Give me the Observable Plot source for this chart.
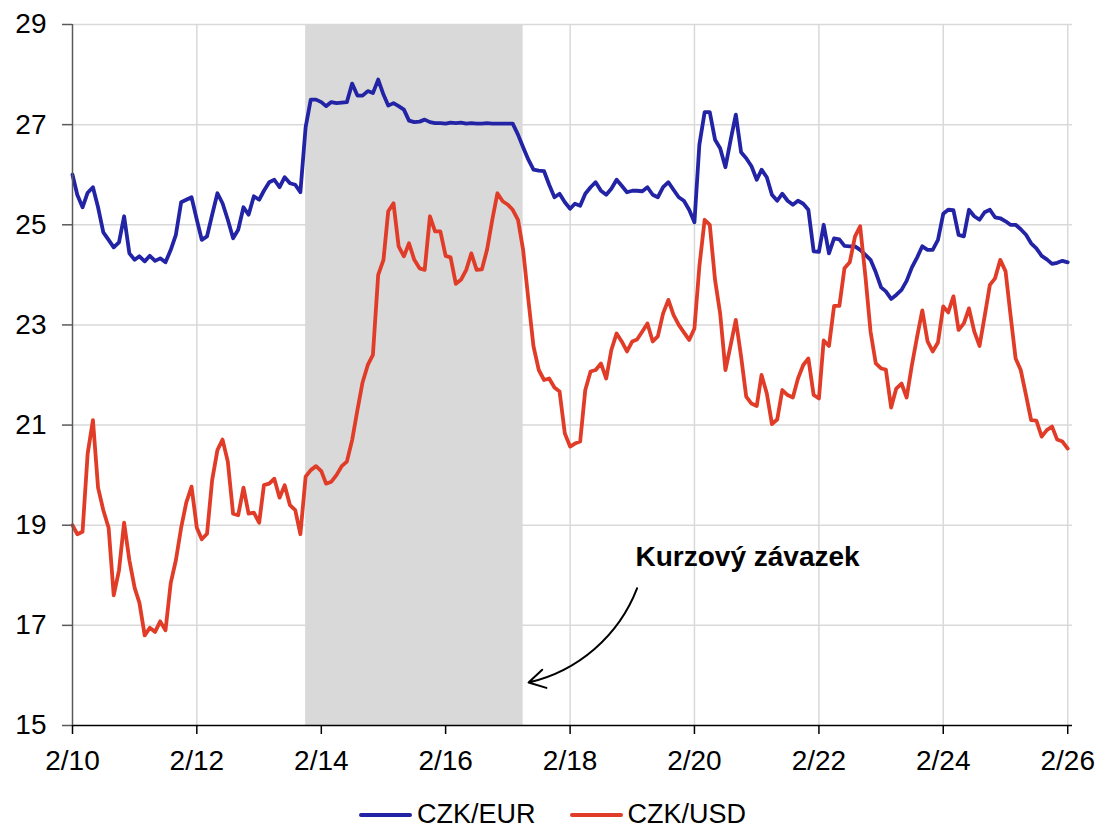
<!DOCTYPE html>
<html>
<head>
<meta charset="utf-8">
<script src="https://cdn.jsdelivr.net/npm/d3@7"></script>
<script src="https://cdn.jsdelivr.net/npm/@observablehq/plot@0.6"></script>
<style>
  body { margin: 0; background: #fff; font-family: "Liberation Sans", Arial, sans-serif; overflow: hidden; }
  #wrap { position: relative; width: 1105px; height: 830px; }
  #legend { position: absolute; left: 0; top: 800px; width: 1105px; height: 29px; line-height: 29px;
            display: flex; justify-content: center; align-items: center; font-size: 27px; color: #000; }
  #legend span { line-height: 29px; }
  .sw { display: inline-block; width: 53px; height: 4px; margin-right: 5px; border-radius: 2px; }
</style>
</head>
<body>
<div id="wrap"><div id="chart"></div>
  <div id="legend">
    <span class="sw" style="background:#2323a6"></span><span>CZK/EUR</span>
    <span class="sw" style="background:#e03c28;margin-left:34px"></span><span>CZK/USD</span>
  </div>
</div>
<script>
// Monthly data, first month = February 2010, last = February 2026
const startYear = 2010, startMonth = 2;

const czkEur = [
  // 2010 (Feb-Dec)
  26.0, 25.6, 25.35, 25.64, 25.75, 25.35, 24.85, 24.7, 24.55, 24.65, 25.17,
  // 2011
  24.43, 24.3, 24.37, 24.27, 24.38, 24.28, 24.33, 24.25, 24.5, 24.8, 25.45, 25.5,
  // 2012
  25.55, 25.1, 24.7, 24.77, 25.2, 25.63, 25.43, 25.1, 24.73, 24.9, 25.35, 25.2,
  // 2013
  25.57, 25.5, 25.68, 25.85, 25.9, 25.75, 25.95, 25.83, 25.8, 25.65, 26.95, 27.5,
  // 2014
  27.5, 27.45, 27.37, 27.45, 27.43, 27.44, 27.45, 27.82, 27.58, 27.58, 27.67, 27.63,
  // 2015
  27.9, 27.6, 27.38, 27.43, 27.37, 27.3, 27.08, 27.05, 27.06, 27.1, 27.05, 27.03,
  // 2016
  27.03, 27.02, 27.04, 27.03, 27.04, 27.02, 27.03, 27.02, 27.02, 27.03, 27.02, 27.02,
  // 2017
  27.02, 27.02, 27.02, 26.8, 26.55, 26.3, 26.1, 26.08, 26.07, 25.8, 25.55, 25.62,
  // 2018
  25.45, 25.32, 25.42, 25.38, 25.62, 25.75, 25.85, 25.68, 25.6, 25.72, 25.9, 25.78,
  // 2019
  25.65, 25.68, 25.68, 25.67, 25.75, 25.6, 25.55, 25.75, 25.85, 25.7, 25.55, 25.48,
  // 2020
  25.3, 25.05, 26.6, 27.25, 27.25, 26.7, 26.53, 26.15, 26.7, 27.2, 26.45, 26.33,
  // 2021
  26.17, 25.9, 26.1, 25.95, 25.6, 25.48, 25.62, 25.48, 25.4, 25.48, 25.42, 25.3,
  // 2022
  24.47, 24.46, 25.0, 24.43, 24.73, 24.71, 24.58, 24.57, 24.57, 24.5, 24.4, 24.3,
  // 2023
  24.05, 23.75, 23.67, 23.52, 23.6, 23.7, 23.88, 24.15, 24.35, 24.57, 24.5, 24.5,
  // 2024
  24.7, 25.22, 25.3, 25.29, 24.8, 24.77, 25.3, 25.17, 25.1, 25.25, 25.3, 25.15,
  // 2025
  25.13, 25.07, 25.0, 25.0, 24.91, 24.8, 24.63, 24.53, 24.38, 24.31, 24.22, 24.24,
  // 2026 (Jan-Feb)
  24.28, 24.25
];

const czkUsd = [
  // 2010 (Feb-Dec)
  19.0, 18.82, 18.87, 20.43, 21.1, 19.75, 19.3, 18.95, 17.6, 18.1, 19.05,
  // 2011
  18.3, 17.75, 17.45, 16.8, 16.95, 16.87, 17.08, 16.9, 17.85, 18.3, 18.95, 19.45,
  // 2012
  19.77, 18.95, 18.72, 18.83, 19.9, 20.5, 20.71, 20.27, 19.23, 19.2, 19.75, 19.23,
  // 2013
  19.25, 19.05, 19.8, 19.83, 19.93, 19.55, 19.8, 19.4, 19.3, 18.82, 19.97, 20.1,
  // 2014
  20.18, 20.08, 19.83, 19.87, 20.0, 20.18, 20.27, 20.7, 21.3, 21.85, 22.2, 22.4,
  // 2015
  24.0, 24.3, 25.27, 25.43, 24.57, 24.37, 24.63, 24.3, 24.13, 24.1, 25.17, 24.87,
  // 2016
  24.87, 24.38, 24.35, 23.82, 23.9, 24.1, 24.43, 24.1, 24.11, 24.5, 25.1, 25.63,
  // 2017
  25.47, 25.4, 25.3, 25.1, 24.5, 23.5, 22.57, 22.1, 21.9, 21.93, 21.75, 21.67,
  // 2018
  20.83, 20.57, 20.63, 20.67, 21.7, 22.07, 22.1, 22.23, 21.93, 22.5, 22.83, 22.67,
  // 2019
  22.47, 22.67, 22.71, 22.87, 23.03, 22.67, 22.77, 23.23, 23.5, 23.2, 23.0, 22.85,
  // 2020
  22.7, 22.93, 24.17, 25.1, 25.0, 23.9, 23.23, 22.1, 22.6, 23.1, 22.37, 21.57,
  // 2021
  21.43, 21.38, 22.0, 21.63, 21.02, 21.11, 21.7, 21.6, 21.55, 21.93, 22.2, 22.33,
  // 2022
  21.6, 21.53, 22.69, 22.58, 23.38, 23.38, 24.13, 24.25, 24.77, 24.97, 23.97, 22.87,
  // 2023
  22.23, 22.13, 22.11, 21.35, 21.73, 21.83, 21.55, 22.2, 22.77, 23.29, 22.67, 22.47,
  // 2024
  22.65, 23.37, 23.25, 23.57, 22.9, 23.03, 23.33, 22.87, 22.58, 23.17, 23.8, 23.93,
  // 2025
  24.3, 24.07, 23.23, 22.33, 22.1, 21.6, 21.1, 21.09, 20.77, 20.9, 20.97, 20.71,
  // 2026 (Jan-Feb)
  20.67, 20.53
];

const seriesNames = ["CZK/EUR", "CZK/USD"];
const seriesColors = ["#2323a6", "#e03c28"];
const yTicks = [15, 17, 19, 21, 23, 25, 27, 29];
const tickYears = [2010, 2012, 2014, 2016, 2018, 2020, 2022, 2024, 2026];
// exchange-rate commitment period (shaded)
const commitment = [{start: "2013-11-01", end: "2017-05-01"}];
const annotationText = [{date: "2019-02-20", value: 18.37, label: "Kurzový závazek"}];
const annotationArrow = [{fromDate: "2019-03-01", fromValue: 17.74, toDate: "2017-06-02", toValue: 15.86}];

const utc = s => new Date(s + "T00:00:00Z");
const monthDate = i => new Date(Date.UTC(startYear, startMonth - 1 + i, 1));
const rows = [];
czkEur.forEach((v, i) => rows.push({date: monthDate(i), value: v, series: seriesNames[0]}));
czkUsd.forEach((v, i) => rows.push({date: monthDate(i), value: v, series: seriesNames[1]}));

const xDomain = [new Date(Date.UTC(2010, 1, 1)), new Date(Date.UTC(2026, 2, 1))];
const tickDates = tickYears.map(y => new Date(Date.UTC(y, 1, 1)));
const shade = commitment.map(d => ({start: utc(d.start), end: utc(d.end)}));
const ann = annotationText.map(d => ({...d, date: utc(d.date)}));
const arr = annotationArrow.map(d => ({...d, fromDate: utc(d.fromDate), toDate: utc(d.toDate)}));
const fmt = d => `${d.getUTCMonth() + 1}/${String(d.getUTCFullYear()).slice(2)}`;

const chart = Plot.plot({
  width: 1105, height: 775,
  marginLeft: 72, marginRight: 33, marginTop: 24, marginBottom: 50,
  style: {fontFamily: "Liberation Sans, Arial, sans-serif", fontSize: "27px", background: "#fff", color: "#000", overflow: "visible"},
  x: {type: "utc", domain: xDomain},
  y: {domain: [15, 29]},
  color: {domain: seriesNames, range: seriesColors},
  marks: [
    Plot.ruleY(yTicks.filter(v => v > 15), {stroke: "#d9d9d9", strokeWidth: 1.5}),
    Plot.ruleX(tickDates.slice(1), {stroke: "#d9d9d9", strokeWidth: 1.5}),
    Plot.rect(shade, {x1: "start", x2: "end", y1: 15, y2: 29, fill: "#d9d9d9"}),
    Plot.line(rows, {x: "date", y: "value", z: "series", stroke: "series", strokeWidth: 3.8, strokeLinejoin: "round", strokeLinecap: "round"}),
    Plot.ruleY([15], {stroke: "#000", strokeWidth: 1.5}),
    Plot.ruleX([xDomain[0]], {stroke: "#595959", strokeWidth: 1.5}),
    Plot.axisY({ticks: yTicks, tickSize: 10, tickPadding: 16, fontSize: 28, stroke: "#595959", strokeWidth: 1.5, tickFormat: d => String(d)}),
    Plot.axisX({ticks: tickDates, tickSize: 9, tickPadding: 16, fontSize: 28, stroke: "#000", strokeWidth: 1.5, tickFormat: fmt}),
    Plot.text(ann, {x: "date", y: "value", text: "label", textAnchor: "start", fontWeight: "bold", fontSize: 28, fill: "#000"}),
    Plot.arrow(arr, {x1: "fromDate", y1: "fromValue", x2: "toDate", y2: "toValue", bend: 28, stroke: "#000", strokeWidth: 2, headLength: 14})
  ]
});
document.getElementById("chart").appendChild(chart);
</script>
</body>
</html>
